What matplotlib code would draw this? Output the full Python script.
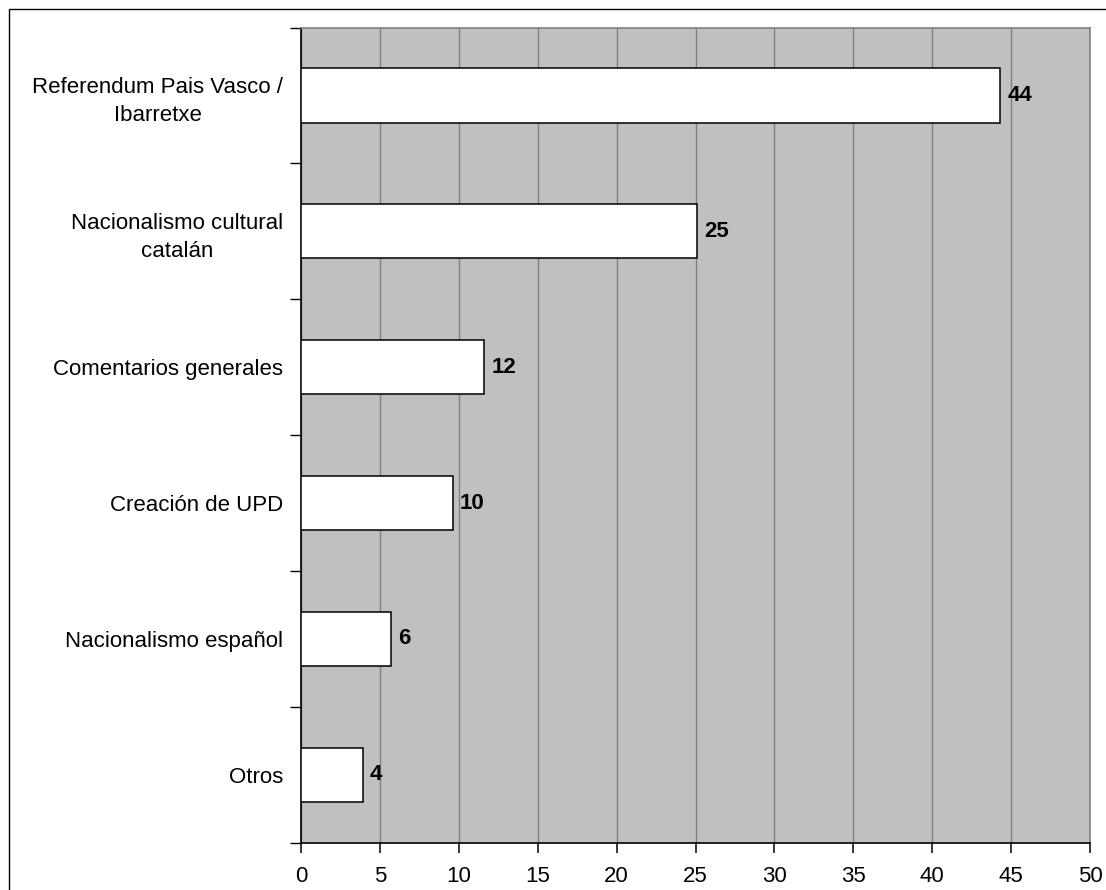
import numpy as np
import matplotlib
matplotlib.use("Agg")
import matplotlib.pyplot as plt
from matplotlib.patches import Rectangle

plt.rcParams.update({"font.family": ["Liberation Sans", "DejaVu Sans"], "font.size": 16})

categories = ["Referendum Pais Vasco /\nIbarretxe", "Nacionalismo cultural\ncatalán",
              "Comentarios generales", "Creación de UPD", "Nacionalismo español", "Otros"]
values = [44.3, 25.1, 11.6, 9.6, 5.7, 3.9]
xticks = list(range(0, 55, 5))

fig = plt.figure(figsize=(11.06, 8.90), dpi=100)
ax = fig.add_axes([0.2722, 0.0532, 0.9855 - 0.2722, 0.9691 - 0.0532])

y = np.arange(len(categories))
ax.barh(y, values, height=0.4, color="white", edgecolor="black", lw=1.1, zorder=3)
for yi, v in zip(y, values):
    ax.text(v + 0.45, yi, f"{v:.0f}", va="center", ha="left", fontweight="bold", fontsize=16)

ax.set_facecolor("#C0C0C0")
ax.set_xlim(0, 50); ax.set_ylim(len(categories) - 0.5, -0.5)
ax.set_xticks(xticks)
ax.xaxis.grid(True, color="#808080", lw=1.0, zorder=0)
ax.tick_params(axis="x", direction="out", length=7, width=1.1, pad=10, labelsize=16)

ax.set_yticks(y)
ax.set_yticklabels(categories)
for t in ax.get_yticklabels():
    t.set_multialignment("center")
    t.set_linespacing(1.45)
ax.set_yticks(np.arange(-0.5, len(categories)), minor=True)
ax.tick_params(axis="y", which="major", length=0, pad=13)
ax.tick_params(axis="y", which="minor", direction="out", length=8, width=1.0)

for s in ("left", "bottom"):
    ax.spines[s].set_color("black"); ax.spines[s].set_linewidth(1.2)
for s in ("top", "right"):
    ax.spines[s].set_color("#808080"); ax.spines[s].set_linewidth(1.2)
ax.set_axisbelow(True)

# outer chart border (cropped at right and bottom)
fig.patches.append(Rectangle((9 / 1106, -0.05), 1.2, 1.05 - 9 / 890, transform=fig.transFigure,
                             fill=False, edgecolor="black", lw=1.0))

fig.savefig("out.png", dpi=100)
